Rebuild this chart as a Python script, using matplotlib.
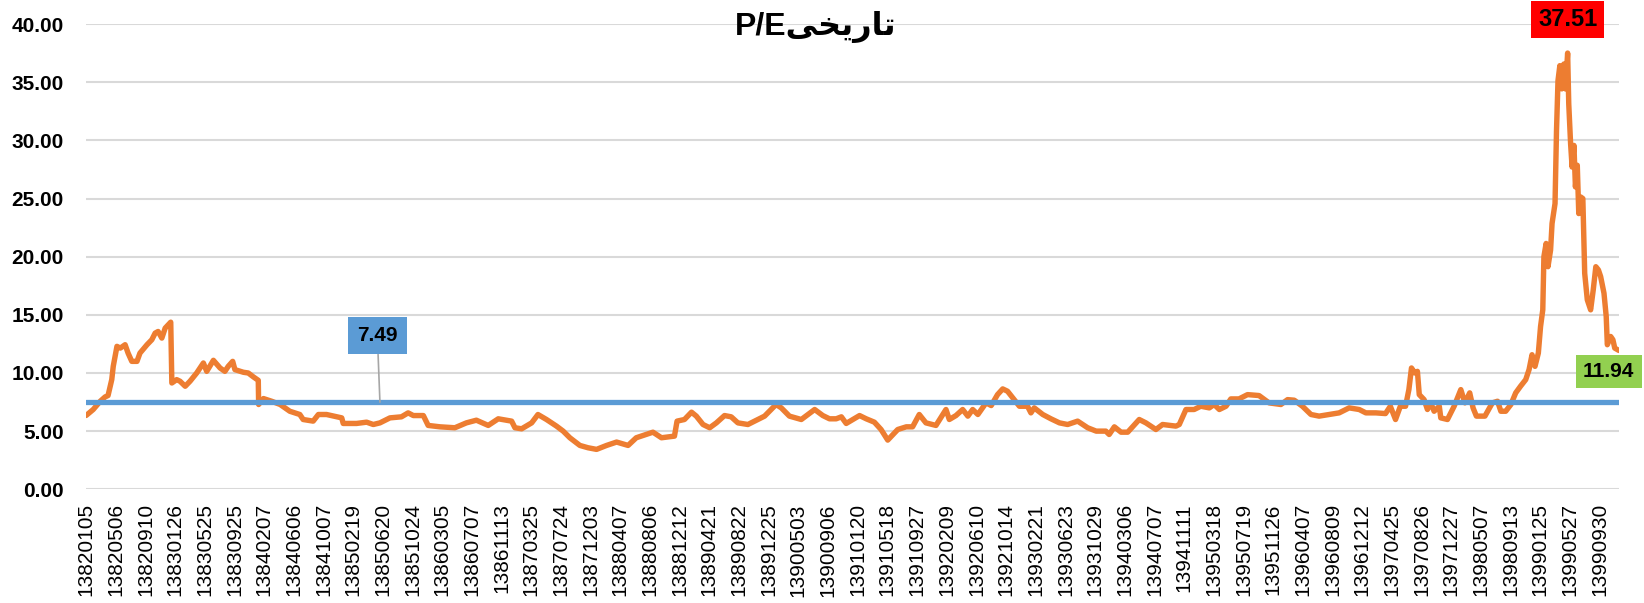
import matplotlib
matplotlib.use("Agg")
import matplotlib.pyplot as plt

day_index = [
    0, 19, 38, 51, 59, 69, 73, 83, 92, 105,
    113, 123, 137, 145, 164, 177, 186, 194, 204, 213,
    228, 231, 244, 253, 267, 280, 298, 316, 325, 343,
    361, 374, 383, 395, 401, 424, 437, 451, 464, 465,
    478, 500, 523, 549, 576, 585, 612, 626, 648, 689,
    693, 729, 756, 774, 792, 819, 850, 868, 882, 909,
    922, 954, 994, 1025, 1052, 1084, 1111, 1147, 1156, 1174,
    1201, 1218, 1241, 1268, 1286, 1304, 1331, 1353, 1376, 1403,
    1430, 1461, 1483, 1528, 1551, 1586, 1593, 1613, 1632, 1645,
    1663, 1681, 1699, 1721, 1739, 1757, 1784, 1802, 1829, 1851,
    1860, 1874, 1896, 1928, 1964, 1986, 2004, 2022, 2036, 2049,
    2085, 2103, 2125, 2143, 2161, 2188, 2211, 2228, 2246, 2264,
    2291, 2318, 2327, 2345, 2363, 2377, 2390, 2404, 2426, 2440,
    2457, 2471, 2484, 2498, 2516, 2538, 2547, 2556, 2579, 2601,
    2624, 2646, 2673, 2700, 2723, 2749, 2758, 2772, 2790, 2808,
    2821, 2839, 2857, 2884, 2902, 2938, 2947, 2965, 2987, 3005,
    3028, 3041, 3055, 3073, 3086, 3108, 3131, 3162, 3189, 3221,
    3239, 3257, 3279, 3302, 3324, 3351, 3378, 3405, 3432, 3450,
    3477, 3503, 3516, 3530, 3543, 3557, 3566, 3573, 3582, 3589,
    3594, 3607, 3616, 3625, 3634, 3648, 3652, 3670, 3688, 3706,
    3717, 3730, 3739, 3748, 3771, 3791, 3805, 3814, 3827, 3841,
    3854, 3867, 3881, 3890, 3898, 3906, 3915, 3921, 3927, 3930,
    3936, 3941, 3948, 3952, 3960, 3964, 3968, 3973, 3978, 3984,
    3988, 3994, 3997, 4002, 4006, 4011, 4015, 4020, 4024, 4029,
    4035, 4040, 4047, 4056, 4063, 4070, 4077, 4083, 4092, 4098,
    4101, 4110, 4116, 4121, 4132,
]
pe_value = [
    6.35, 6.86, 7.57, 7.94, 8.06, 9.43, 10.57, 12.29, 12.14, 12.43,
    11.71, 11.0, 11.0, 11.71, 12.43, 12.86, 13.43, 13.57, 13.0, 13.86,
    14.37, 9.14, 9.43, 9.29, 8.86, 9.29, 10.0, 10.86, 10.14, 11.09,
    10.43, 10.14, 10.57, 11.0, 10.29, 10.06, 10.0, 9.66, 9.37, 7.29,
    7.8, 7.57, 7.29, 6.71, 6.43, 6.0, 5.86, 6.43, 6.43, 6.14,
    5.66, 5.66, 5.77, 5.57, 5.71, 6.14, 6.23, 6.57, 6.34, 6.34,
    5.49, 5.37, 5.29, 5.71, 5.94, 5.49, 6.06, 5.86, 5.29, 5.2,
    5.71, 6.43, 6.0, 5.43, 5.0, 4.43, 3.77, 3.57, 3.43, 3.77,
    4.06, 3.77, 4.43, 4.91, 4.43, 4.57, 5.86, 6.0, 6.63, 6.29,
    5.57, 5.29, 5.71, 6.34, 6.23, 5.71, 5.57, 5.86, 6.29, 7.0,
    7.29, 7.0, 6.29, 6.0, 6.86, 6.34, 6.06, 6.06, 6.23, 5.66,
    6.34, 6.06, 5.77, 5.14, 4.23, 5.14, 5.37, 5.37, 6.43, 5.71,
    5.49, 6.86, 6.0, 6.34, 6.86, 6.29, 6.86, 6.43, 7.43, 7.2,
    8.14, 8.63, 8.43, 7.86, 7.14, 7.14, 6.57, 7.0, 6.43, 6.06,
    5.71, 5.57, 5.86, 5.29, 5.0, 5.0, 4.71, 5.37, 4.91, 4.91,
    5.37, 6.0, 5.71, 5.14, 5.57, 5.43, 5.57, 6.86, 6.86, 7.14,
    7.0, 7.29, 6.86, 7.14, 7.77, 7.77, 8.14, 8.06, 7.43, 7.29,
    7.71, 7.66, 7.14, 6.43, 6.29, 6.43, 6.57, 7.0, 6.86, 6.57,
    6.57, 6.51, 7.14, 6.0, 7.14, 7.14, 8.57, 10.43, 10.0, 10.14,
    8.14, 7.71, 6.86, 7.43, 6.71, 7.14, 6.14, 6.0, 7.14, 8.57,
    7.43, 8.29, 7.0, 6.29, 6.29, 7.43, 7.57, 6.71, 6.71, 7.29,
    8.29, 8.86, 9.43, 10.29, 11.57, 10.57, 11.71, 14.0, 15.43, 20.0,
    21.14, 19.14, 20.57, 22.86, 24.57, 30.86, 35.14, 36.43, 34.43, 36.57,
    34.43, 37.51, 33.14, 29.71, 27.71, 29.57, 26.0, 27.86, 23.71, 25.14,
    25.0, 18.57, 16.29, 15.43, 17.14, 19.14, 18.86, 18.29, 16.86, 14.86,
    12.43, 13.14, 12.86, 12.14, 11.94,
]

avg_pe = 7.49
n_days = 4133
label_step = 80

date_labels = [
    "13820105", "13820506", "13820910", "13830126", "13830525", "13830925",
    "13840207", "13840606", "13841007", "13850219", "13850620", "13851024",
    "13860305", "13860707", "13861113", "13870325", "13870724", "13871203",
    "13880407", "13880806", "13881212", "13890421", "13890822", "13891225",
    "13900503", "13900906", "13910120", "13910518", "13910927", "13920209",
    "13920610", "13921014", "13930221", "13930623", "13931029", "13940306",
    "13940707", "13941111", "13950318", "13950719", "13951126", "13960407",
    "13960809", "13961212", "13970425", "13970826", "13971227", "13980507",
    "13980913", "13990125", "13990527", "13990930",
]

# title "P/E تاریخی" with the Persian word pre-shaped in visual order
title_text = "P/E" + "\uFBFD\uFEA8\uFBFE\uFEAD\uFE8E\uFE97"

plt.rcParams["font.family"] = ["Liberation Sans", "DejaVu Sans"]

fig = plt.figure(figsize=(16.44, 6.03), dpi=100)
ax = fig.add_axes([0.0523, 0.1886, 0.9325, 0.7714])

ax.plot(day_index, pe_value, color="#ED7D31", lw=3.9,
        solid_joinstyle="round", solid_capstyle="round", zorder=3)
ax.plot([0, n_days - 1], [avg_pe, avg_pe], color="#5B9BD5", lw=3.8,
        solid_capstyle="round", zorder=4)

ax.set_xlim(-0.5, n_days - 0.5)
ax.set_ylim(0, 40)
ax.set_yticks(range(0, 41, 5))
ax.set_yticklabels([f"{v:.2f}" for v in range(0, 41, 5)],
                   fontsize=15, fontweight="bold")
ax.set_xticks(range(0, label_step * len(date_labels), label_step))
ax.set_xticklabels(date_labels, rotation=90, fontsize=15)
ax.tick_params(axis="y", length=0, pad=16)
ax.tick_params(axis="x", length=0, pad=10)
ax.grid(axis="y", color="#d9d9d9", lw=1.5, zorder=0)
ax.set_axisbelow(True)
for s in ax.spines.values():
    s.set_visible(False)

# data labels
peak_i = pe_value.index(max(pe_value))
ax.text(day_index[peak_i], 40.4, f"{pe_value[peak_i]:.2f}", ha="center",
        va="center", fontsize=17, fontweight="bold", clip_on=False,
        bbox=dict(boxstyle="square,pad=0.3", fc="#FF0000", ec="none"),
        zorder=6)
ax.text(4105, 10.13, f"{pe_value[-1]:.2f}", ha="center", va="center",
        fontsize=15, fontweight="bold", clip_on=False,
        bbox=dict(boxstyle="square,pad=0.35", fc="#92D050", ec="none"),
        zorder=6)
ax.annotate(f"{avg_pe:.2f}", xy=(792, avg_pe), xytext=(785, 13.22),
            ha="center", va="center", fontsize=15, fontweight="bold",
            bbox=dict(boxstyle="square,pad=0.45", fc="#5B9BD5", ec="none"),
            arrowprops=dict(arrowstyle="-", color="#a6a6a6", lw=1.2,
                            shrinkA=0, shrinkB=0),
            zorder=6)

fig.text(0.496, 0.955, title_text, ha="center", va="center", fontsize=23,
         fontweight="bold", family=["Liberation Sans", "DejaVu Sans"])

fig.savefig("out.png", dpi=100)
